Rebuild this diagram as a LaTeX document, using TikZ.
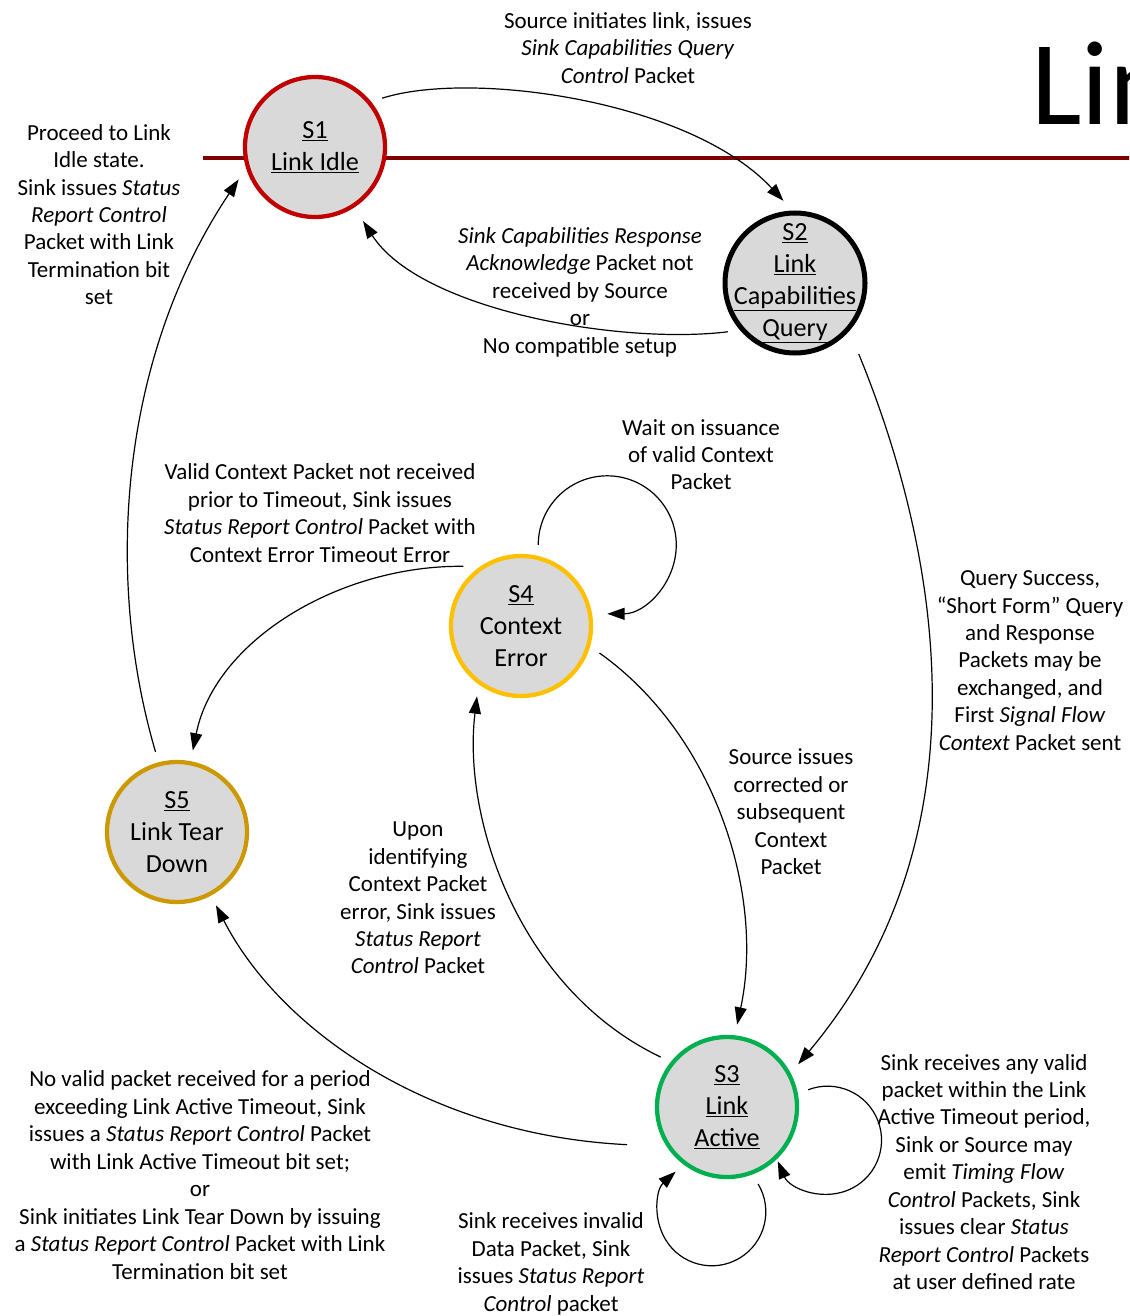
\documentclass[tikz,border=0pt]{standalone}
\usepackage{fontspec}
\setmainfont{Carlito}
\usetikzlibrary{arrows.meta}

\definecolor{idlered}{RGB}{192,0,0}
\definecolor{rulered}{RGB}{128,0,0}
\definecolor{activegreen}{RGB}{0,176,80}
\definecolor{erroryellow}{RGB}{255,192,0}
\definecolor{teargold}{RGB}{204,153,0}
\definecolor{statefill}{RGB}{217,217,217}

\tikzset{
  state/.style={circle, fill=statefill, line width=3.2pt, minimum size=105pt,
    inner sep=-15pt, outer sep=9.75pt, align=center,
    font=\fontsize{19.6}{24}\selectfont},
  trans/.style={-{Triangle[length=13pt,width=9pt]}, line width=0.9pt},
  lbl/.style={align=center, inner sep=0pt, font=\fontsize{17.25}{20.6}\selectfont},
}

\begin{document}
\begin{tikzpicture}[x=0.75pt, y=-0.75pt]
  \clip (0,0) rectangle (1129,1316);

  \node[anchor=base west, inner sep=0pt, font=\fontsize{90}{90}\selectfont] (title) at (1031,125) {Lin};

  \coordinate (rule w) at (203,158);
  \coordinate (rule e) at (1135,158);
  \draw[rulered, line width=3pt] (rule w) -- (rule e);

  \node[state, draw=idlered]      (s1) at (315,147)  {\underline{S1}\\\underline{Link Idle}};
  \node[state, draw=black, line width=3.75pt] (s2) at (795,283)
    {\underline{S2}\\\underline{Link}\\\underline{Capabilities}\\\underline{Query}};
  \node[state, draw=activegreen]  (s3) at (727,1107) {\underline{S3}\\\underline{Link}\\\underline{Active}};
  \node[state, draw=erroryellow]  (s4) at (521,626)  {\underline{S4}\\Context\\Error};
  \node[state, draw=teargold]     (s5) at (177,832)  {\underline{S5}\\Link Tear\\Down};

  \draw[trans] (s1.36) .. controls (470,70) and (690,100) .. (s2.98);
  \draw[trans, shorten >=4pt] (s2.216) .. controls (620,345) and (420,310) .. (s1.-57);
  \draw[trans, shorten <=10pt] (s2.-45) .. controls (935,540) and (995,830) .. (s3.31);
  \draw[trans] (s4.78) arc[start angle=180, end angle=-90, radius=51.75pt];
  \draw[trans] (s4.134) .. controls (340,565) and (215,640) .. (s5.79);
  \draw[trans] (s4.-19) .. controls (715,735) and (765,895) .. (s3.83);
  \draw[trans] (s3.143) .. controls (520,990) and (462,820) .. (s4.-122);
  \draw[trans, shorten <=20pt] (s3.208) .. controls (430,1135) and (280,1030) .. (s5.-62);
  \draw[trans] (s5.105) .. controls (105,580) and (118,360) .. (s1.-157);
  \draw[trans] (s3.12) arc[start angle=111, end angle=-157, radius=40.5pt];
  \draw[trans] (s3.-68) arc[start angle=31, end angle=-228, radius=40.5pt];

  \node[lbl] (lab12) at (628,47.7) {Source initiates link, issues\\\textit{Sink Capabilities Query}\\\textit{Control} Packet};
  \node[lbl] (lab51) at (99,214.6) {Proceed to Link\\Idle state.\\Sink issues \textit{Status}\\\textit{Report Control}\\Packet with Link\\Termination bit\\set};
  \node[lbl] (lab21) at (580,292) {\textit{Sink Capabilities Response}\\\textit{Acknowledge} Packet not\\received by Source\\or\\No compatible setup};
  \node[lbl] (lab44) at (701,454.7) {Wait on issuance\\of valid Context\\Packet};
  \node[lbl] (lab45) at (320,513) {Valid Context Packet not received\\prior to Timeout, Sink issues\\\textit{Status Report Control} Packet with\\Context Error Timeout Error};
  \node[lbl] (lab23) at (1030,660.6) {Query Success,\\“Short Form” Query\\and Response\\Packets may be\\exchanged, and\\First \textit{Signal Flow}\\\textit{Context} Packet sent};
  \node[lbl] (lab43) at (791,812) {Source issues\\corrected or\\subsequent\\Context\\Packet};
  \node[lbl] (lab34) at (418,898) {Upon\\identifying\\Context Packet\\error, Sink issues\\\textit{Status Report}\\\textit{Control} Packet};
  \node[lbl] (lab35) at (200,1175) {No valid packet received for a period\\exceeding Link Active Timeout, Sink\\issues a \textit{Status Report Control} Packet\\with Link Active Timeout bit set;\\or\\Sink initiates Link Tear Down by issuing\\a \textit{Status Report Control} Packet with Link\\Termination bit set};
  \node[lbl] (lab33b) at (551,1264) {Sink receives invalid\\Data Packet, Sink\\issues \textit{Status Report}\\\textit{Control} packet};
  \node[lbl] (lab33r) at (984,1172) {Sink receives any valid\\packet within the Link\\Active Timeout period,\\Sink or Source may\\emit \textit{Timing Flow}\\\textit{Control} Packets, Sink\\issues clear \textit{Status}\\\textit{Report Control} Packets\\at user defined rate};
\end{tikzpicture}
\end{document}
